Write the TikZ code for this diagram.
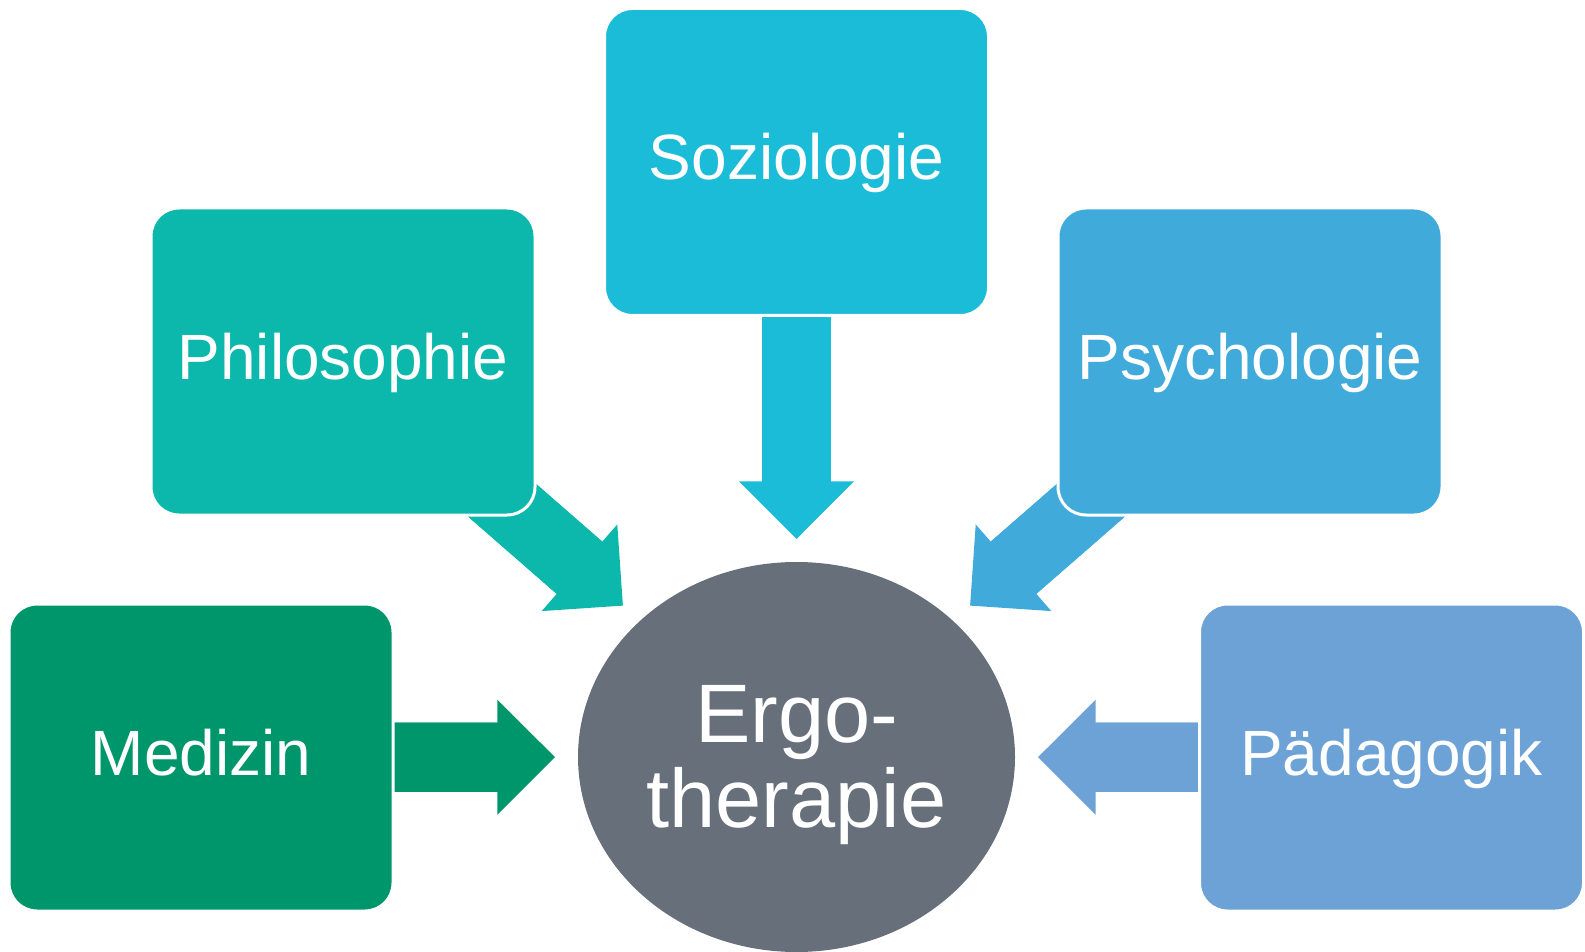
\documentclass[tikz,border=0pt]{standalone}
\usepackage{fontspec}
\setmainfont{Liberation Sans}
\usepackage{tikz}
\usetikzlibrary{shapes.geometric, arrows.meta, backgrounds}
\definecolor{soz-col}{RGB}{27,188,215}
\definecolor{phil-col}{RGB}{12,184,172}
\definecolor{psy-col}{RGB}{64,171,219}
\definecolor{med-col}{RGB}{0,150,108}
\definecolor{paed-col}{RGB}{108,162,214}
\definecolor{ergo-col}{RGB}{103,111,122}
\tikzset{
    field-box/.style = {draw=white, line width=1.5pt, rectangle, rounded corners=14pt, minimum width=192pt, minimum height=153.5pt, inner sep=0pt, text=white, font=\fontsize{32}{38}\selectfont, text height=24.5pt, text depth=6.7pt},
    centre-ellipse/.style = {ellipse, fill=ergo-col, minimum width=218.5pt, minimum height=195pt, inner sep=0pt, outer sep=0pt},
    centre-text/.style = {text=white, align=center, inner sep=0pt, font=\fontsize{41.5}{42.7}\selectfont},
    feed-arrow/.style = {line width=34.65pt, -{Triangle[width=57.5pt, length=28.8pt, line width=0pt]}, shorten >=11.5pt, postaction={draw, arrows=-, shorten >=32pt}},
}

\begin{document}
\begin{tikzpicture}[x=0.5pt, y=-0.5pt]
\useasboundingbox (0,0) rectangle (1585,952);
\node [centre-ellipse] (ergo) at (796.5,757) {};
\node [centre-text] (ergo-label) at ([yshift=-4pt]ergo.center) {Ergo-\\therapie};
\node [field-box, fill=soz-col] (soz) at (796.5,162) {Soziologie};
\node [field-box, fill=phil-col] (phil) at (343,361.5) {Philosophie};
\node [field-box, fill=psy-col] (psy) at (1250,361.5) {Psychologie};
\node [field-box, fill=med-col] (med) at (201,757.5) {Medizin};
\node [field-box, fill=paed-col] (paed) at (1391.5,757.5) {Pädagogik};
\begin{scope}[on background layer]
\draw [feed-arrow, soz-col] (soz.center) -- (ergo);
\draw [feed-arrow, phil-col] (phil.center) -- (ergo);
\draw [feed-arrow, psy-col] (psy.center) -- (ergo);
\draw [feed-arrow, med-col] (med.center) -- (ergo);
\draw [feed-arrow, paed-col] (paed.center) -- (ergo);
\end{scope}
\end{tikzpicture}
\end{document}
